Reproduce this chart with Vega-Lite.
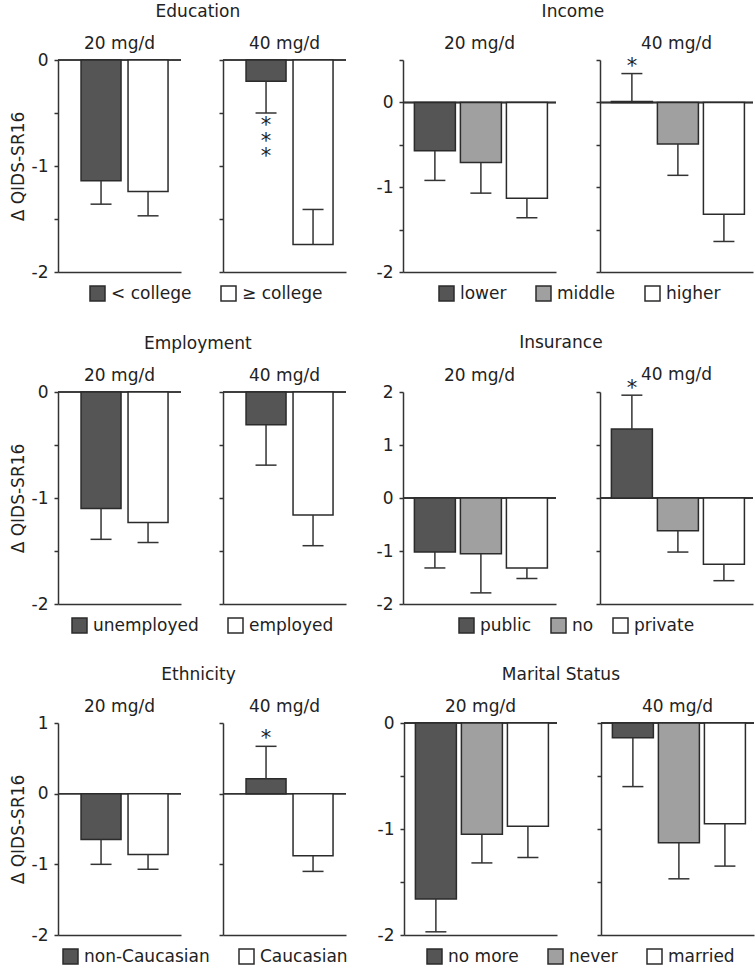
{
"$schema": "https://vega.github.io/schema/vega-lite/v6.json",
"padding": {"left": 9, "top": 2, "right": 0, "bottom": 0},
"datasets": {"d": [
{"p":"Education","dose":"20 mg/d","g":"< college","v":-1.14,"e":-1.36},
{"p":"Education","dose":"20 mg/d","g":"≥ college","v":-1.24,"e":-1.47},
{"p":"Education","dose":"40 mg/d","g":"< college","v":-0.2,"e":-0.5,"s":"*\n*\n*","pos":"below"},
{"p":"Education","dose":"40 mg/d","g":"≥ college","v":-1.74,"e":-1.41},
{"p":"Income","dose":"20 mg/d","g":"lower","v":-0.57,"e":-0.92},
{"p":"Income","dose":"20 mg/d","g":"middle","v":-0.71,"e":-1.07},
{"p":"Income","dose":"20 mg/d","g":"higher","v":-1.13,"e":-1.36},
{"p":"Income","dose":"40 mg/d","g":"lower","v":0.01,"e":0.34,"s":"*","pos":"above"},
{"p":"Income","dose":"40 mg/d","g":"middle","v":-0.49,"e":-0.86},
{"p":"Income","dose":"40 mg/d","g":"higher","v":-1.32,"e":-1.64},
{"p":"Employment","dose":"20 mg/d","g":"unemployed","v":-1.1,"e":-1.39},
{"p":"Employment","dose":"20 mg/d","g":"employed","v":-1.23,"e":-1.42},
{"p":"Employment","dose":"40 mg/d","g":"unemployed","v":-0.31,"e":-0.69},
{"p":"Employment","dose":"40 mg/d","g":"employed","v":-1.16,"e":-1.45},
{"p":"Insurance","dose":"20 mg/d","g":"public","v":-1.02,"e":-1.32},
{"p":"Insurance","dose":"20 mg/d","g":"no","v":-1.05,"e":-1.79},
{"p":"Insurance","dose":"20 mg/d","g":"private","v":-1.32,"e":-1.52},
{"p":"Insurance","dose":"40 mg/d","g":"public","v":1.3,"e":1.94,"s":"*","pos":"above"},
{"p":"Insurance","dose":"40 mg/d","g":"no","v":-0.62,"e":-1.02},
{"p":"Insurance","dose":"40 mg/d","g":"private","v":-1.25,"e":-1.56},
{"p":"Ethnicity","dose":"20 mg/d","g":"non-Caucasian","v":-0.65,"e":-1.0},
{"p":"Ethnicity","dose":"20 mg/d","g":"Caucasian","v":-0.86,"e":-1.07},
{"p":"Ethnicity","dose":"40 mg/d","g":"non-Caucasian","v":0.21,"e":0.67,"s":"*","pos":"above"},
{"p":"Ethnicity","dose":"40 mg/d","g":"Caucasian","v":-0.88,"e":-1.1},
{"p":"Marital Status","dose":"20 mg/d","g":"no more","v":-1.66,"e":-1.97},
{"p":"Marital Status","dose":"20 mg/d","g":"never","v":-1.05,"e":-1.32},
{"p":"Marital Status","dose":"20 mg/d","g":"married","v":-0.975,"e":-1.27},
{"p":"Marital Status","dose":"40 mg/d","g":"no more","v":-0.14,"e":-0.6},
{"p":"Marital Status","dose":"40 mg/d","g":"never","v":-1.13,"e":-1.47},
{"p":"Marital Status","dose":"40 mg/d","g":"married","v":-0.95,"e":-1.35}
]},
"data": {"name": "d"},
"spacing": 30,
"resolve": {"scale": {"color": "independent"}},
"vconcat": [
{"hconcat": [
 {"title": {"text": "Education", "offset": 14, "frame": "bounds", "dx": 20}, "spacing": 36, "hconcat": [
  {"width":123,"height":212,"title":{"text":"20 mg/d","offset":-2},
   "transform":[{"filter":"datum.p=='Education' && datum.dose=='20 mg/d'"}],
   "layer":[
    {"mark":{"type":"rule","color":"#333","strokeWidth":1.5},"encoding":{"y":{"datum":0,"type":"quantitative"}}},
    {"mark":{"type":"bar","stroke":"#2b2b2b","strokeWidth":1.5},"encoding":{
      "x":{"field":"g","type":"nominal","sort":["< college","≥ college"],"scale":{"paddingInner":0.149,"paddingOuter":0.383,"align":0.64},"axis":{"title":null}},
      "y":{"field":"v","type":"quantitative","scale":{"domain":[-2,0],"nice":false,"zero":false},"axis":{"values":[0,-0.5,-1,-1.5,-2],"labelExpr":"datum.value % 1 == 0 ? '' + datum.value : ''","title":"Δ QIDS-SR16"}},
      "color":{"field":"g","type":"nominal","scale":{"domain":["< college","≥ college"],"range":["#555555","#ffffff"]},"legend":{"title":null,"legendX":31}}}},
    {"mark":{"type":"rule","color":"#333","strokeWidth":1.5},"encoding":{"x":{"field":"g","type":"nominal","sort":["< college","≥ college"]},"y":{"field":"v","type":"quantitative"},"y2":{"field":"e"}}},
    {"mark":{"type":"tick","orient":"horizontal","color":"#333","size":21,"thickness":1.5,"opacity":1},"encoding":{"x":{"field":"g","type":"nominal","sort":["< college","≥ college"]},"y":{"field":"e","type":"quantitative"}}}
   ]},
  {"width":123,"height":212,"title":{"text":"40 mg/d","offset":6},
   "transform":[{"filter":"datum.p=='Education' && datum.dose=='40 mg/d'"}],
   "layer":[
    {"mark":{"type":"rule","color":"#333","strokeWidth":1.5},"encoding":{"y":{"datum":0,"type":"quantitative"}}},
    {"mark":{"type":"bar","stroke":"#2b2b2b","strokeWidth":1.5},"encoding":{
      "x":{"field":"g","type":"nominal","sort":["< college","≥ college"],"scale":{"paddingInner":0.149,"paddingOuter":0.383,"align":0.64},"axis":{"title":null}},
      "y":{"field":"v","type":"quantitative","scale":{"domain":[-2,0],"nice":false,"zero":false},"axis":{"values":[0,-0.5,-1,-1.5,-2],"labels":false,"title":null}},
      "color":{"field":"g","type":"nominal","scale":{"domain":["< college","≥ college"],"range":["#555555","#ffffff"]},"legend":{"title":null,"legendX":31}}}},
    {"mark":{"type":"rule","color":"#333","strokeWidth":1.5},"encoding":{"x":{"field":"g","type":"nominal","sort":["< college","≥ college"]},"y":{"field":"v","type":"quantitative"},"y2":{"field":"e"}}},
    {"mark":{"type":"tick","orient":"horizontal","color":"#333","size":21,"thickness":1.5,"opacity":1},"encoding":{"x":{"field":"g","type":"nominal","sort":["< college","≥ college"]},"y":{"field":"e","type":"quantitative"}}},
    {"transform":[{"filter":"datum.pos=='below'"}],"mark":{"type":"text","fontSize":21,"baseline":"top","dy":2,"lineBreak":"\n","lineHeight":15.5,"color":"#222"},"encoding":{"x":{"field":"g","type":"nominal","sort":["< college","≥ college"]},"y":{"field":"e","type":"quantitative"},"text":{"field":"s"}}}
   ]}
 ]},
 {"title": {"text": "Income", "offset": 14, "frame": "bounds", "dx": 8}, "spacing": 38, "hconcat": [
  {"width":153,"height":212,"title":{"text":"20 mg/d","offset":6},
   "transform":[{"filter":"datum.p=='Income' && datum.dose=='20 mg/d'"}],
   "layer":[
    {"mark":{"type":"rule","color":"#333","strokeWidth":1.5},"encoding":{"y":{"datum":0,"type":"quantitative"}}},
    {"mark":{"type":"bar","stroke":"#2b2b2b","strokeWidth":1.5},"encoding":{
      "x":{"field":"g","type":"nominal","sort":["lower","middle","higher"],"scale":{"paddingInner":0.109,"paddingOuter":0.217,"align":0.57},"axis":{"title":null}},
      "y":{"field":"v","type":"quantitative","scale":{"domain":[-2,0.5],"nice":false,"zero":false},"axis":{"values":[0.5,0,-0.5,-1,-1.5,-2],"labelExpr":"datum.value % 1 == 0 ? '' + datum.value : ''","title":null}},
      "color":{"field":"g","type":"nominal","scale":{"domain":["lower","middle","higher"],"range":["#555555","#a0a0a0","#ffffff"]},"legend":{"title":null,"legendX":35}}}},
    {"mark":{"type":"rule","color":"#333","strokeWidth":1.5},"encoding":{"x":{"field":"g","type":"nominal","sort":["lower","middle","higher"]},"y":{"field":"v","type":"quantitative"},"y2":{"field":"e"}}},
    {"mark":{"type":"tick","orient":"horizontal","color":"#333","size":21,"thickness":1.5,"opacity":1},"encoding":{"x":{"field":"g","type":"nominal","sort":["lower","middle","higher"]},"y":{"field":"e","type":"quantitative"}}}
   ]},
  {"width":153,"height":212,"title":{"text":"40 mg/d","offset":3},
   "transform":[{"filter":"datum.p=='Income' && datum.dose=='40 mg/d'"}],
   "layer":[
    {"mark":{"type":"rule","color":"#333","strokeWidth":1.5},"encoding":{"y":{"datum":0,"type":"quantitative"}}},
    {"mark":{"type":"bar","stroke":"#2b2b2b","strokeWidth":1.5},"encoding":{
      "x":{"field":"g","type":"nominal","sort":["lower","middle","higher"],"scale":{"paddingInner":0.109,"paddingOuter":0.217,"align":0.57},"axis":{"title":null}},
      "y":{"field":"v","type":"quantitative","scale":{"domain":[-2,0.5],"nice":false,"zero":false},"axis":{"values":[0.5,0,-0.5,-1,-1.5,-2],"labels":false,"title":null}},
      "color":{"field":"g","type":"nominal","scale":{"domain":["lower","middle","higher"],"range":["#555555","#a0a0a0","#ffffff"]},"legend":{"title":null,"legendX":35}}}},
    {"mark":{"type":"rule","color":"#333","strokeWidth":1.5},"encoding":{"x":{"field":"g","type":"nominal","sort":["lower","middle","higher"]},"y":{"field":"v","type":"quantitative"},"y2":{"field":"e"}}},
    {"mark":{"type":"tick","orient":"horizontal","color":"#333","size":21,"thickness":1.5,"opacity":1},"encoding":{"x":{"field":"g","type":"nominal","sort":["lower","middle","higher"]},"y":{"field":"e","type":"quantitative"}}},
    {"transform":[{"filter":"datum.pos=='above'"}],"mark":{"type":"text","fontSize":21,"baseline":"middle","dy":-7,"color":"#222"},"encoding":{"x":{"field":"g","type":"nominal","sort":["lower","middle","higher"]},"y":{"field":"e","type":"quantitative"},"text":{"field":"s"}}}
   ]}
 ]}
], "spacing": 29, "resolve": {"scale": {"color": "independent"}}},
{"hconcat": [
 {"title": {"text": "Employment", "offset": 14, "frame": "bounds", "dx": 20}, "spacing": 36, "hconcat": [
  {"width":123,"height":212,"title":{"text":"20 mg/d","offset":-2},
   "transform":[{"filter":"datum.p=='Employment' && datum.dose=='20 mg/d'"}],
   "layer":[
    {"mark":{"type":"rule","color":"#333","strokeWidth":1.5},"encoding":{"y":{"datum":0,"type":"quantitative"}}},
    {"mark":{"type":"bar","stroke":"#2b2b2b","strokeWidth":1.5},"encoding":{
      "x":{"field":"g","type":"nominal","sort":["unemployed","employed"],"scale":{"paddingInner":0.149,"paddingOuter":0.383,"align":0.64},"axis":{"title":null}},
      "y":{"field":"v","type":"quantitative","scale":{"domain":[-2,0],"nice":false,"zero":false},"axis":{"values":[0,-0.5,-1,-1.5,-2],"labelExpr":"datum.value % 1 == 0 ? '' + datum.value : ''","title":"Δ QIDS-SR16"}},
      "color":{"field":"g","type":"nominal","scale":{"domain":["unemployed","employed"],"range":["#555555","#ffffff"]},"legend":{"title":null,"legendX":13}}}},
    {"mark":{"type":"rule","color":"#333","strokeWidth":1.5},"encoding":{"x":{"field":"g","type":"nominal","sort":["unemployed","employed"]},"y":{"field":"v","type":"quantitative"},"y2":{"field":"e"}}},
    {"mark":{"type":"tick","orient":"horizontal","color":"#333","size":21,"thickness":1.5,"opacity":1},"encoding":{"x":{"field":"g","type":"nominal","sort":["unemployed","employed"]},"y":{"field":"e","type":"quantitative"}}}
   ]},
  {"width":123,"height":212,"title":{"text":"40 mg/d","offset":6},
   "transform":[{"filter":"datum.p=='Employment' && datum.dose=='40 mg/d'"}],
   "layer":[
    {"mark":{"type":"rule","color":"#333","strokeWidth":1.5},"encoding":{"y":{"datum":0,"type":"quantitative"}}},
    {"mark":{"type":"bar","stroke":"#2b2b2b","strokeWidth":1.5},"encoding":{
      "x":{"field":"g","type":"nominal","sort":["unemployed","employed"],"scale":{"paddingInner":0.149,"paddingOuter":0.383,"align":0.64},"axis":{"title":null}},
      "y":{"field":"v","type":"quantitative","scale":{"domain":[-2,0],"nice":false,"zero":false},"axis":{"values":[0,-0.5,-1,-1.5,-2],"labels":false,"title":null}},
      "color":{"field":"g","type":"nominal","scale":{"domain":["unemployed","employed"],"range":["#555555","#ffffff"]},"legend":{"title":null,"legendX":13}}}},
    {"mark":{"type":"rule","color":"#333","strokeWidth":1.5},"encoding":{"x":{"field":"g","type":"nominal","sort":["unemployed","employed"]},"y":{"field":"v","type":"quantitative"},"y2":{"field":"e"}}},
    {"mark":{"type":"tick","orient":"horizontal","color":"#333","size":21,"thickness":1.5,"opacity":1},"encoding":{"x":{"field":"g","type":"nominal","sort":["unemployed","employed"]},"y":{"field":"e","type":"quantitative"}}}
   ]}
 ]},
 {"title": {"text": "Insurance", "offset": 14, "frame": "bounds", "dx": -4}, "spacing": 38, "hconcat": [
  {"width":153,"height":212,"title":{"text":"20 mg/d","offset":-2},
   "transform":[{"filter":"datum.p=='Insurance' && datum.dose=='20 mg/d'"}],
   "layer":[
    {"mark":{"type":"rule","color":"#333","strokeWidth":1.5},"encoding":{"y":{"datum":0,"type":"quantitative"}}},
    {"mark":{"type":"bar","stroke":"#2b2b2b","strokeWidth":1.5},"encoding":{
      "x":{"field":"g","type":"nominal","sort":["public","no","private"],"scale":{"paddingInner":0.109,"paddingOuter":0.217,"align":0.57},"axis":{"title":null}},
      "y":{"field":"v","type":"quantitative","scale":{"domain":[-2,2],"nice":false,"zero":false},"axis":{"values":[2,1,0,-1,-2],"labelExpr":"datum.value % 1 == 0 ? '' + datum.value : ''","title":null}},
      "color":{"field":"g","type":"nominal","scale":{"domain":["public","no","private"],"range":["#555555","#a0a0a0","#ffffff"]},"legend":{"title":null,"legendX":55,"columnPadding":16}}}},
    {"mark":{"type":"rule","color":"#333","strokeWidth":1.5},"encoding":{"x":{"field":"g","type":"nominal","sort":["public","no","private"]},"y":{"field":"v","type":"quantitative"},"y2":{"field":"e"}}},
    {"mark":{"type":"tick","orient":"horizontal","color":"#333","size":21,"thickness":1.5,"opacity":1},"encoding":{"x":{"field":"g","type":"nominal","sort":["public","no","private"]},"y":{"field":"e","type":"quantitative"}}}
   ]},
  {"width":153,"height":212,"title":{"text":"40 mg/d","offset":-6},
   "transform":[{"filter":"datum.p=='Insurance' && datum.dose=='40 mg/d'"}],
   "layer":[
    {"mark":{"type":"rule","color":"#333","strokeWidth":1.5},"encoding":{"y":{"datum":0,"type":"quantitative"}}},
    {"mark":{"type":"bar","stroke":"#2b2b2b","strokeWidth":1.5},"encoding":{
      "x":{"field":"g","type":"nominal","sort":["public","no","private"],"scale":{"paddingInner":0.109,"paddingOuter":0.217,"align":0.57},"axis":{"title":null}},
      "y":{"field":"v","type":"quantitative","scale":{"domain":[-2,2],"nice":false,"zero":false},"axis":{"values":[2,1,0,-1,-2],"labels":false,"title":null}},
      "color":{"field":"g","type":"nominal","scale":{"domain":["public","no","private"],"range":["#555555","#a0a0a0","#ffffff"]},"legend":{"title":null,"legendX":55,"columnPadding":16}}}},
    {"mark":{"type":"rule","color":"#333","strokeWidth":1.5},"encoding":{"x":{"field":"g","type":"nominal","sort":["public","no","private"]},"y":{"field":"v","type":"quantitative"},"y2":{"field":"e"}}},
    {"mark":{"type":"tick","orient":"horizontal","color":"#333","size":21,"thickness":1.5,"opacity":1},"encoding":{"x":{"field":"g","type":"nominal","sort":["public","no","private"]},"y":{"field":"e","type":"quantitative"}}},
    {"transform":[{"filter":"datum.pos=='above'"}],"mark":{"type":"text","fontSize":21,"baseline":"middle","dy":-6,"color":"#222"},"encoding":{"x":{"field":"g","type":"nominal","sort":["public","no","private"]},"y":{"field":"e","type":"quantitative"},"text":{"field":"s"}}}
   ]}
 ]}
], "spacing": 29, "resolve": {"scale": {"color": "independent"}}},
{"hconcat": [
 {"title": {"text": "Ethnicity", "offset": 14, "frame": "bounds", "dx": 20}, "spacing": 36, "hconcat": [
  {"width":123,"height":212,"title":{"text":"20 mg/d","offset":-2},
   "transform":[{"filter":"datum.p=='Ethnicity' && datum.dose=='20 mg/d'"}],
   "layer":[
    {"mark":{"type":"rule","color":"#333","strokeWidth":1.5},"encoding":{"y":{"datum":0,"type":"quantitative"}}},
    {"mark":{"type":"bar","stroke":"#2b2b2b","strokeWidth":1.5},"encoding":{
      "x":{"field":"g","type":"nominal","sort":["non-Caucasian","Caucasian"],"scale":{"paddingInner":0.149,"paddingOuter":0.383,"align":0.64},"axis":{"title":null}},
      "y":{"field":"v","type":"quantitative","scale":{"domain":[-2,1],"nice":false,"zero":false},"axis":{"values":[1,0.5,0,-0.5,-1,-1.5,-2],"labelExpr":"datum.value % 1 == 0 ? '' + datum.value : ''","title":"Δ QIDS-SR16"}},
      "color":{"field":"g","type":"nominal","scale":{"domain":["non-Caucasian","Caucasian"],"range":["#555555","#ffffff"]},"legend":{"title":null,"legendX":4}}}},
    {"mark":{"type":"rule","color":"#333","strokeWidth":1.5},"encoding":{"x":{"field":"g","type":"nominal","sort":["non-Caucasian","Caucasian"]},"y":{"field":"v","type":"quantitative"},"y2":{"field":"e"}}},
    {"mark":{"type":"tick","orient":"horizontal","color":"#333","size":21,"thickness":1.5,"opacity":1},"encoding":{"x":{"field":"g","type":"nominal","sort":["non-Caucasian","Caucasian"]},"y":{"field":"e","type":"quantitative"}}}
   ]},
  {"width":123,"height":212,"title":{"text":"40 mg/d","offset":6},
   "transform":[{"filter":"datum.p=='Ethnicity' && datum.dose=='40 mg/d'"}],
   "layer":[
    {"mark":{"type":"rule","color":"#333","strokeWidth":1.5},"encoding":{"y":{"datum":0,"type":"quantitative"}}},
    {"mark":{"type":"bar","stroke":"#2b2b2b","strokeWidth":1.5},"encoding":{
      "x":{"field":"g","type":"nominal","sort":["non-Caucasian","Caucasian"],"scale":{"paddingInner":0.149,"paddingOuter":0.383,"align":0.64},"axis":{"title":null}},
      "y":{"field":"v","type":"quantitative","scale":{"domain":[-2,1],"nice":false,"zero":false},"axis":{"values":[1,0.5,0,-0.5,-1,-1.5,-2],"labels":false,"title":null}},
      "color":{"field":"g","type":"nominal","scale":{"domain":["non-Caucasian","Caucasian"],"range":["#555555","#ffffff"]},"legend":{"title":null,"legendX":4}}}},
    {"mark":{"type":"rule","color":"#333","strokeWidth":1.5},"encoding":{"x":{"field":"g","type":"nominal","sort":["non-Caucasian","Caucasian"]},"y":{"field":"v","type":"quantitative"},"y2":{"field":"e"}}},
    {"mark":{"type":"tick","orient":"horizontal","color":"#333","size":21,"thickness":1.5,"opacity":1},"encoding":{"x":{"field":"g","type":"nominal","sort":["non-Caucasian","Caucasian"]},"y":{"field":"e","type":"quantitative"}}},
    {"transform":[{"filter":"datum.pos=='above'"}],"mark":{"type":"text","fontSize":21,"baseline":"middle","dy":-7,"color":"#222"},"encoding":{"x":{"field":"g","type":"nominal","sort":["non-Caucasian","Caucasian"]},"y":{"field":"e","type":"quantitative"},"text":{"field":"s"}}}
   ]}
 ]},
 {"title": {"text": "Marital Status", "offset": 14, "frame": "bounds", "dx": -5}, "spacing": 38, "hconcat": [
  {"width":153,"height":212,"title":{"text":"20 mg/d","offset":-2},
   "transform":[{"filter":"datum.p=='Marital Status' && datum.dose=='20 mg/d'"}],
   "layer":[
    {"mark":{"type":"rule","color":"#333","strokeWidth":1.5},"encoding":{"y":{"datum":0,"type":"quantitative"}}},
    {"mark":{"type":"bar","stroke":"#2b2b2b","strokeWidth":1.5},"encoding":{
      "x":{"field":"g","type":"nominal","sort":["no more","never","married"],"scale":{"paddingInner":0.109,"paddingOuter":0.217,"align":0.57},"axis":{"title":null}},
      "y":{"field":"v","type":"quantitative","scale":{"domain":[-2,0],"nice":false,"zero":false},"axis":{"values":[0,-0.5,-1,-1.5,-2],"labelExpr":"datum.value % 1 == 0 ? '' + datum.value : ''","title":null}},
      "color":{"field":"g","type":"nominal","scale":{"domain":["no more","never","married"],"range":["#555555","#a0a0a0","#ffffff"]},"legend":{"title":null,"legendX":22}}}},
    {"mark":{"type":"rule","color":"#333","strokeWidth":1.5},"encoding":{"x":{"field":"g","type":"nominal","sort":["no more","never","married"]},"y":{"field":"v","type":"quantitative"},"y2":{"field":"e"}}},
    {"mark":{"type":"tick","orient":"horizontal","color":"#333","size":21,"thickness":1.5,"opacity":1},"encoding":{"x":{"field":"g","type":"nominal","sort":["no more","never","married"]},"y":{"field":"e","type":"quantitative"}}}
   ]},
  {"width":153,"height":212,"title":{"text":"40 mg/d","offset":6},
   "transform":[{"filter":"datum.p=='Marital Status' && datum.dose=='40 mg/d'"}],
   "layer":[
    {"mark":{"type":"rule","color":"#333","strokeWidth":1.5},"encoding":{"y":{"datum":0,"type":"quantitative"}}},
    {"mark":{"type":"bar","stroke":"#2b2b2b","strokeWidth":1.5},"encoding":{
      "x":{"field":"g","type":"nominal","sort":["no more","never","married"],"scale":{"paddingInner":0.109,"paddingOuter":0.217,"align":0.57},"axis":{"title":null}},
      "y":{"field":"v","type":"quantitative","scale":{"domain":[-2,0],"nice":false,"zero":false},"axis":{"values":[0,-0.5,-1,-1.5,-2],"labels":false,"title":null}},
      "color":{"field":"g","type":"nominal","scale":{"domain":["no more","never","married"],"range":["#555555","#a0a0a0","#ffffff"]},"legend":{"title":null,"legendX":22}}}},
    {"mark":{"type":"rule","color":"#333","strokeWidth":1.5},"encoding":{"x":{"field":"g","type":"nominal","sort":["no more","never","married"]},"y":{"field":"v","type":"quantitative"},"y2":{"field":"e"}}},
    {"mark":{"type":"tick","orient":"horizontal","color":"#333","size":21,"thickness":1.5,"opacity":1},"encoding":{"x":{"field":"g","type":"nominal","sort":["no more","never","married"]},"y":{"field":"e","type":"quantitative"}}}
   ]}
 ]}
], "spacing": 29, "resolve": {"scale": {"color": "independent"}}}
],
"config": {
 "font": "DejaVu Sans",
 "view": {"stroke": null},
 "axis": {"grid": false, "domainColor": "#333", "domainWidth": 1.5, "tickColor": "#333", "tickWidth": 1.5, "tickSize": 4, "labelFont": "DejaVu Sans", "labelFontSize": 17, "labelColor": "#222", "labelPadding": 6, "titleFont": "DejaVu Sans", "titleFontSize": 17, "titleFontWeight": "normal", "titleColor": "#222", "titlePadding": 4},
 "axisX": {"labels": false, "ticks": false},
 "title": {"font": "DejaVu Sans", "fontSize": 17, "fontWeight": "normal", "color": "#222", "anchor": "middle", "frame": "group"},
 "legend": {"orient": "none", "legendY": 225, "direction": "horizontal", "symbolType": "square", "symbolSize": 225, "symbolStrokeColor": "#2b2b2b", "symbolStrokeWidth": 1.5, "labelFont": "DejaVu Sans", "labelFontSize": 17, "labelColor": "#222", "columnPadding": 26, "labelOffset": 5},
 "text": {"font": "DejaVu Sans", "color": "#222"}
}
}
